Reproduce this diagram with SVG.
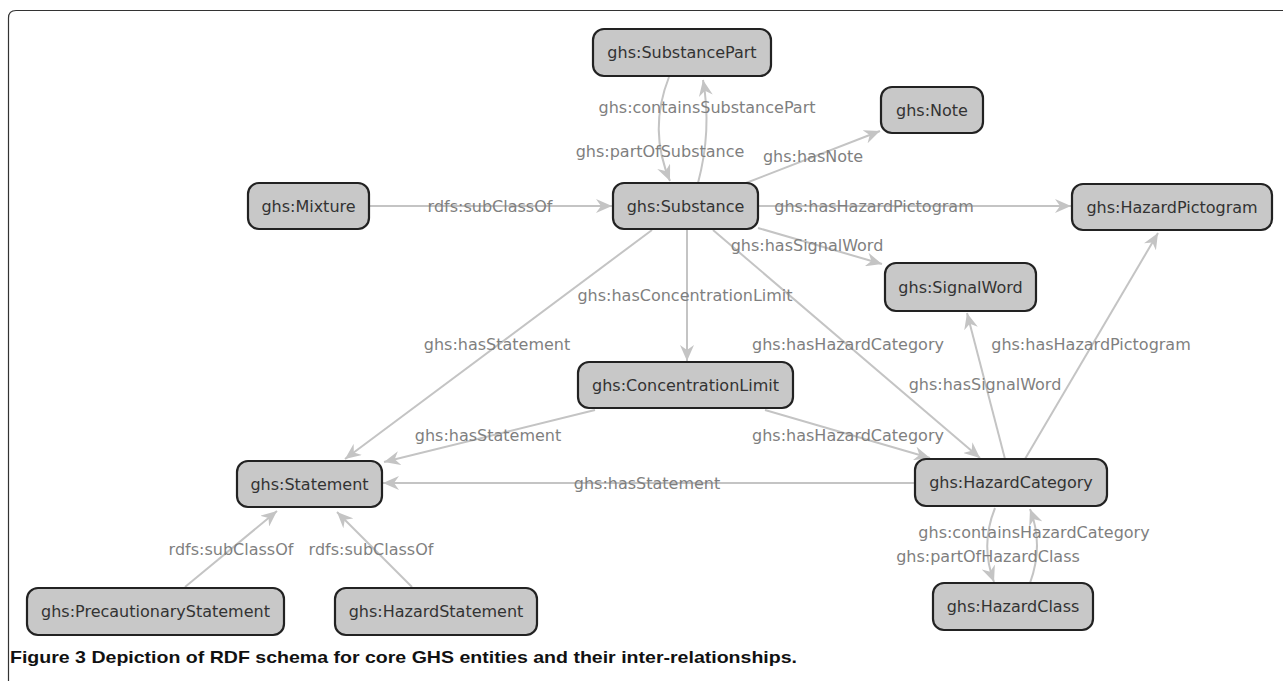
<svg xmlns="http://www.w3.org/2000/svg" width="1283" height="681" viewBox="0 0 1283 681">
<style>
.node rect{fill:#c8c8c8;stroke:#222;stroke-width:2.2}
.node text{font-family:"DejaVu Sans",sans-serif;font-size:16px;fill:#333;text-anchor:middle}
.edge{fill:none;stroke:#c4c4c4;stroke-width:2;marker-end:url(#arr)}
.lbl{font-family:"DejaVu Sans",sans-serif;font-size:16px;fill:#7f7f7f;text-anchor:middle}
.cap{font-family:"Liberation Sans",Arial,sans-serif;font-size:17px;font-weight:bold;fill:#111}
</style>
<defs>
<marker id="arr" markerUnits="userSpaceOnUse" markerWidth="16" markerHeight="14" refX="16" refY="7" orient="auto">
<path d="M0,0 L16,7 L0,14 L5,7 z" fill="#c4c4c4"/>
</marker>
</defs>
<rect x="0" y="0" width="1283" height="681" fill="#fff"/>
<path d="M8.5,681 V18 Q8.5,10.5 16,10.5 H1283" fill="none" stroke="#333" stroke-width="1.2"/>
<g id="connectors">
<line class="edge" x1="369" y1="206" x2="612" y2="206"/>
<path class="edge" d="M698,183 Q712,130 703,80"/>
<path class="edge" d="M669,77 Q648,130 670,181"/>
<line class="edge" x1="746" y1="183" x2="880" y2="131"/>
<line class="edge" x1="758" y1="206" x2="1071" y2="206"/>
<line class="edge" x1="758" y1="228" x2="882" y2="264"/>
<line class="edge" x1="687" y1="229" x2="687" y2="361"/>
<line class="edge" x1="652" y1="230" x2="345" y2="459"/>
<line class="edge" x1="713" y1="230" x2="980" y2="458"/>
<line class="edge" x1="595" y1="410" x2="384" y2="462"/>
<line class="edge" x1="765" y1="410" x2="930" y2="458"/>
<line class="edge" x1="915" y1="483" x2="383" y2="483"/>
<line class="edge" x1="1005" y1="459" x2="967" y2="313"/>
<line class="edge" x1="1025" y1="459" x2="1158" y2="233"/>
<path class="edge" d="M995,508 Q980,545 994,582"/>
<path class="edge" d="M1030,583 Q1044,545 1030,509"/>
<line class="edge" x1="185" y1="587" x2="277" y2="511"/>
<line class="edge" x1="412" y1="587" x2="337" y2="512"/>
</g>
<g id="labels">
<text class="lbl" x="707" y="113">ghs:containsSubstancePart</text>
<text class="lbl" x="660" y="157">ghs:partOfSubstance</text>
<text class="lbl" x="813" y="162">ghs:hasNote</text>
<text class="lbl" x="490" y="212">rdfs:subClassOf</text>
<text class="lbl" x="874" y="212">ghs:hasHazardPictogram</text>
<text class="lbl" x="807" y="251">ghs:hasSignalWord</text>
<text class="lbl" x="685" y="301">ghs:hasConcentrationLimit</text>
<text class="lbl" x="497" y="350">ghs:hasStatement</text>
<text class="lbl" x="848" y="350">ghs:hasHazardCategory</text>
<text class="lbl" x="1091" y="350">ghs:hasHazardPictogram</text>
<text class="lbl" x="985" y="390">ghs:hasSignalWord</text>
<text class="lbl" x="488" y="441">ghs:hasStatement</text>
<text class="lbl" x="848" y="441">ghs:hasHazardCategory</text>
<text class="lbl" x="647" y="489">ghs:hasStatement</text>
<text class="lbl" x="1034" y="538">ghs:containsHazardCategory</text>
<text class="lbl" x="988" y="562">ghs:partOfHazardClass</text>
<text class="lbl" x="231" y="555">rdfs:subClassOf</text>
<text class="lbl" x="371" y="555">rdfs:subClassOf</text>
</g>
<g id="SubstancePart" class="node"><rect x="593" y="29" width="178" height="47" rx="11"/><text x="682" y="58">ghs:SubstancePart</text></g>
<g id="Note" class="node"><rect x="881" y="87" width="102" height="46" rx="11"/><text x="932" y="116">ghs:Note</text></g>
<g id="Mixture" class="node"><rect x="248" y="183" width="121" height="46" rx="11"/><text x="308.5" y="212">ghs:Mixture</text></g>
<g id="Substance" class="node"><rect x="613" y="183" width="145" height="46" rx="11"/><text x="685.5" y="212">ghs:Substance</text></g>
<g id="HazardPictogram" class="node"><rect x="1072" y="184" width="200" height="46" rx="11"/><text x="1172" y="213">ghs:HazardPictogram</text></g>
<g id="SignalWord" class="node"><rect x="885" y="263" width="151" height="48" rx="11"/><text x="960.5" y="293">ghs:SignalWord</text></g>
<g id="ConcentrationLimit" class="node"><rect x="578" y="362" width="215" height="46" rx="11"/><text x="685.5" y="391">ghs:ConcentrationLimit</text></g>
<g id="Statement" class="node"><rect x="237" y="461" width="145" height="46" rx="11"/><text x="309.5" y="490">ghs:Statement</text></g>
<g id="HazardCategory" class="node"><rect x="915" y="459" width="192" height="47" rx="11"/><text x="1011" y="488">ghs:HazardCategory</text></g>
<g id="HazardClass" class="node"><rect x="933" y="583" width="160" height="47" rx="11"/><text x="1013" y="612">ghs:HazardClass</text></g>
<g id="PrecautionaryStatement" class="node"><rect x="27" y="588" width="257" height="47" rx="11"/><text x="155.5" y="617">ghs:PrecautionaryStatement</text></g>
<g id="HazardStatement" class="node"><rect x="335" y="588" width="202" height="47" rx="11"/><text x="436" y="617">ghs:HazardStatement</text></g>
<text class="cap" x="10" y="663" textLength="787" lengthAdjust="spacingAndGlyphs">Figure 3 Depiction of RDF schema for core GHS entities and their inter-relationships.</text>
</svg>
